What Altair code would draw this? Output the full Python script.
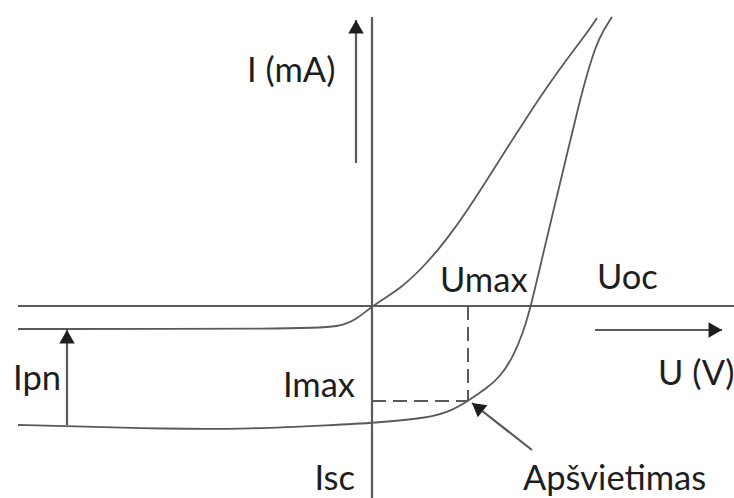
import math
import altair as alt
import pandas as pd

# Schematic I-V characteristics of a photodiode / solar cell.
# U and I are in arbitrary schematic units (origin at the axes crossing).

# Dark (unlit) characteristic
u_dark = [-35.4, -7.2, -3.2, -1.5, 0.0, 3.1, 5.5, 7.5, 9.5, 11.5, 13.5, 15.5, 17.5, 19.5, 21.5, 22.5]
i_dark = [-2.3, -2.3, -2.1, -1.3, 0.0, 1.9, 4.3, 6.7, 9.5, 12.6, 15.8, 18.9, 21.9, 24.7, 27.3, 28.8]

# Illuminated characteristic ("Apšvietimas")
u_light = [-35.4, -30.5, -20.5, -12.2, -3.9, 0.1, 5.8, 8.1, 9.6, 11.5, 12.8, 14.1, 15.1,
           15.9, 17.2, 18.4, 19.6, 20.8, 21.7, 22.7, 24.0]
i_light = [-11.9, -12.0, -12.3, -12.3, -11.9, -11.7, -11.2, -10.4, -9.5, -8.2, -7.1, -5.1, -2.7,
           0.0, 5.6, 10.6, 15.6, 20.6, 23.9, 26.9, 28.9]

# Maximum power point
u_max, i_max = 9.6, -9.5

# Axis extents
u_axis = [-35.4, 36.2]
i_axis = [-19.2, 28.9]

# Text labels
label_text = ["I (mA)", "Umax", "Uoc", "U (V)", "Apšvietimas", "Imax", "Isc", "Ipn"]
label_u = [-12.5, 6.8, 22.5, 28.6, 15.1, -1.7, -1.7, -35.9]
label_i = [22.4, 1.4, 1.7, -7.9, -18.4, -9.1, -18.4, -8.4]
label_align = ["left", "left", "left", "left", "left", "right", "right", "left"]

# Arrows: tail (u0, i0) -> tip (u1, i1)
arrow_u0 = [-1.6, 22.3, -30.5, 16.0]
arrow_i0 = [14.3, -2.4, -11.9, -14.4]
arrow_u1 = [-1.6, 35.0, -30.5, 10.0]
arrow_i1 = [28.6, -2.4, -2.4, -9.7]

W, H = 734, 498
x_dom = [-37.2, 36.2]
y_dom = [-19.2, 30.6]
px_per_u = W / (x_dom[1] - x_dom[0])
px_per_i = H / (y_dom[1] - y_dom[0])

xs = alt.Scale(domain=x_dom, nice=False, zero=False)
ys = alt.Scale(domain=y_dom, nice=False, zero=False)

LINE = "#5a5a5a"
INK = "#1e1e1e"
FONT = "Lato"

dark = pd.DataFrame({"U": u_dark, "I": i_dark})
light = pd.DataFrame({"U": u_light, "I": i_light})

axes = pd.DataFrame({
    "u0": [u_axis[0], 0.0], "i0": [0.0, i_axis[0]],
    "u1": [u_axis[1], 0.0], "i1": [0.0, i_axis[1]],
})

dashes = pd.DataFrame({
    "u0": [u_max, 0.0], "i0": [0.0, i_max],
    "u1": [u_max, u_max], "i1": [i_max, i_max],
})

arrows = pd.DataFrame({"u0": arrow_u0, "i0": arrow_i0, "u1": arrow_u1, "i1": arrow_i1})

# Arrowheads: a triangle whose tip sits on the arrow's end point
HEAD = 240
half_h = math.sqrt(HEAD) / 2 * math.sqrt(3) / 2
heads = []
for u0, i0, u1, i1 in zip(arrow_u0, arrow_i0, arrow_u1, arrow_i1):
    dx = (u1 - u0) * px_per_u
    dy = -(i1 - i0) * px_per_i
    n = math.hypot(dx, dy)
    ux, uy = dx / n, dy / n
    cx = u1 - ux * half_h / px_per_u
    cy = i1 + uy * half_h / px_per_i
    ang = math.degrees(math.atan2(ux, -uy)) % 360
    heads.append({"U": cx, "I": cy, "angle": ang})
heads = pd.DataFrame(heads)

labels = pd.DataFrame({"text": label_text, "U": label_u, "I": label_i, "align": label_align})

axis_rules = alt.Chart(axes).mark_rule(color=LINE, strokeWidth=2.2).encode(
    x=alt.X("u0:Q", scale=xs, axis=None), y=alt.Y("i0:Q", scale=ys, axis=None),
    x2="u1:Q", y2="i1:Q",
)

dash_rules = alt.Chart(dashes).mark_rule(color=LINE, strokeWidth=2, strokeDash=[14, 7]).encode(
    x=alt.X("u0:Q", scale=xs), y=alt.Y("i0:Q", scale=ys), x2="u1:Q", y2="i1:Q",
)

dark_line = alt.Chart(dark).mark_line(color=LINE, strokeWidth=1.8, interpolate="basis").encode(
    x=alt.X("U:Q", scale=xs), y=alt.Y("I:Q", scale=ys), order="U:Q",
)

light_line = alt.Chart(light).mark_line(color=LINE, strokeWidth=1.8, interpolate="basis").encode(
    x=alt.X("U:Q", scale=xs), y=alt.Y("I:Q", scale=ys), order="U:Q",
)

arrow_rules = alt.Chart(arrows).mark_rule(color=LINE, strokeWidth=2.2).encode(
    x=alt.X("u0:Q", scale=xs), y=alt.Y("i0:Q", scale=ys), x2="u1:Q", y2="i1:Q",
)

arrow_heads = alt.Chart(heads).mark_point(
    shape="triangle-up", filled=True, color=INK, size=HEAD, opacity=1
).encode(
    x=alt.X("U:Q", scale=xs), y=alt.Y("I:Q", scale=ys), angle=alt.Angle("angle:Q", scale=None),
)

text_layers = []
for al in ["left", "right"]:
    text_layers.append(
        alt.Chart(labels[labels["align"] == al]).mark_text(
            align=al, baseline="alphabetic", font=FONT, fontSize=34.5, color=INK
        ).encode(x=alt.X("U:Q", scale=xs), y=alt.Y("I:Q", scale=ys), text="text:N")
    )

chart = alt.layer(
    axis_rules, dash_rules, dark_line, light_line, arrow_rules, arrow_heads, *text_layers
).properties(
    width=W, height=H, autosize=alt.AutoSizeParams(type="none"), padding=0,
    background="white",
).configure_view(stroke=None)

chart.save("out.html", embed_options={"renderer": "svg", "actions": False})
